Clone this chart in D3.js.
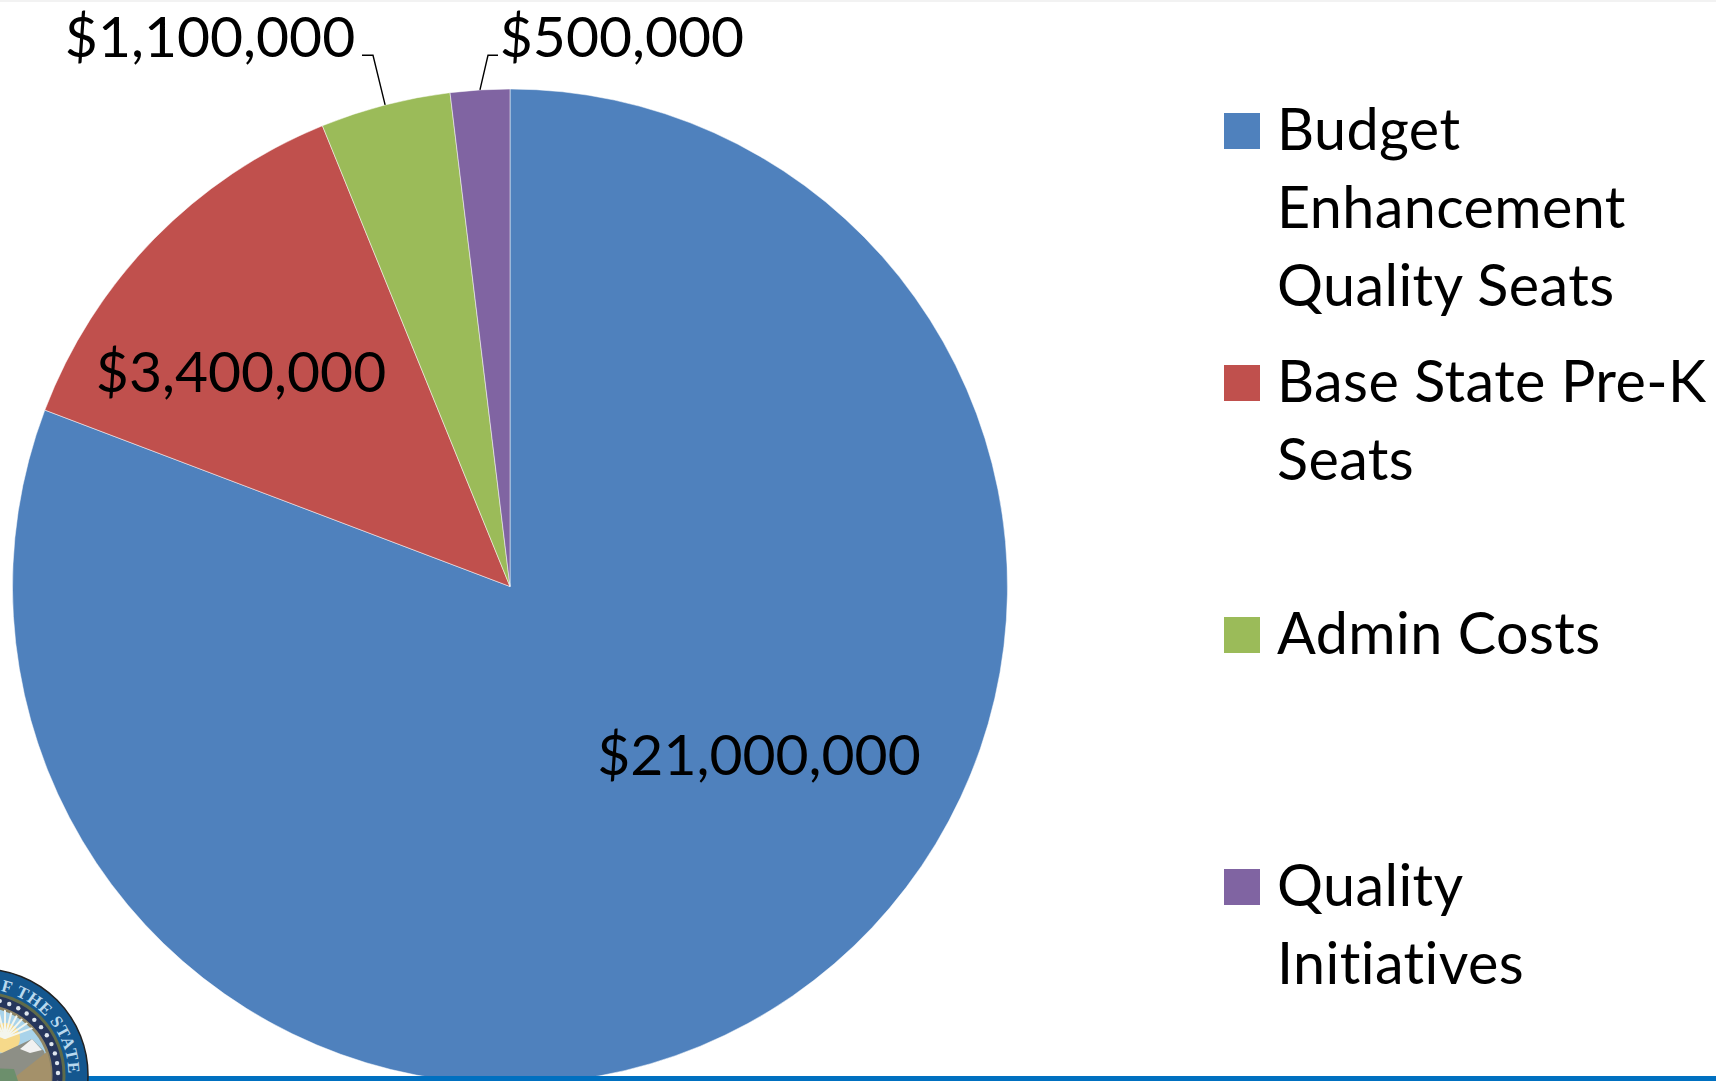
<!DOCTYPE html>
<html>
<head>
<meta charset="utf-8">
<script src="https://cdn.jsdelivr.net/npm/d3@7.9.0/dist/d3.min.js"></script>
<style>
  html, body { margin: 0; padding: 0; background: #fff; }
  svg { display: block; }
  text { font-family: Lato, "Open Sans", sans-serif; fill: #000; font-variant-ligatures: none; }
</style>
</head>
<body>
<svg id="chart" width="1716" height="1081"></svg>
<script>
const categories = ["Budget Enhancement Quality Seats", "Base State Pre-K Seats", "Admin Costs", "Quality Initiatives"];
const values = [21000000, 3400000, 1100000, 500000];
const valueLabels = ["$21,000,000", "$3,400,000", "$1,100,000", "$500,000"];
const legendLines = [["Budget", "Enhancement", "Quality Seats"], ["Base State Pre-K", "Seats"], ["Admin Costs"], ["Quality", "Initiatives"]];
const colors = ["#4f81bd", "#c0504d", "#9bbb59", "#8064a2"];

const svg = d3.select("#chart");
const width = +svg.attr("width");
const height = +svg.attr("height");
const cx = 510, cy = 586.5, radius = 497.5;
const fontSize = 57;
const legendFontSize = 57.5;

svg.append("rect").attr("width", width).attr("height", 2).attr("fill", "#f2f2f2");

const g = svg.append("g").attr("transform", `translate(${cx},${cy})`);

const pie = d3.pie().sort(null).value(d => d);
const arc = d3.arc().innerRadius(0).outerRadius(radius);
const arcs = pie(values);

g.selectAll("path.slice")
  .data(arcs)
  .join("path")
  .attr("class", "slice")
  .attr("d", arc)
  .attr("fill", (d, i) => colors[i])
  .attr("stroke", "#fff")
  .attr("stroke-width", 0.5);

// Data labels, offsets from pie centre
const labelOffsets = [[249, 166], [-269, -217], [-300, -552], [112, -552]];
g.selectAll("text.value")
  .data(arcs)
  .join("text")
  .attr("class", "value")
  .attr("x", (d, i) => labelOffsets[i][0])
  .attr("y", (d, i) => labelOffsets[i][1])
  .attr("text-anchor", "middle")
  .attr("dominant-baseline", "central")
  .attr("font-size", fontSize)
  .text((d, i) => valueLabels[i]);

// Leader lines for the two thin slices
const leaderY = 55.3 - cy;
const leaders = [{ i: 2, elbow: -137, end: -148 }, { i: 3, elbow: -22, end: -12 }];
leaders.forEach(l => {
  const a = (arcs[l.i].startAngle + arcs[l.i].endAngle) / 2;
  const px = Math.sin(a) * radius, py = -Math.cos(a) * radius;
  g.append("path")
    .attr("d", d3.line()([[px, py], [l.elbow, leaderY], [l.end, leaderY]]))
    .attr("fill", "none")
    .attr("stroke", "#000")
    .attr("stroke-width", 1.4);
});

// Legend
const legendTops = [113, 365, 617, 869];
const lineHeight = 78.3;
const legend = svg.append("g");
categories.forEach((c, i) => {
  const row = legend.append("g").attr("transform", `translate(1224,${legendTops[i]})`);
  row.append("rect").attr("width", 36).attr("height", 36).attr("fill", colors[i]);
  legendLines[i].forEach((line, j) => {
    row.append("text")
      .attr("x", 53)
      .attr("y", 36.5 + j * lineHeight)
      .attr("font-size", legendFontSize)
      .attr("letter-spacing", 0.4)
      .text(line);
  });
});

// Footer bar and seal
svg.append("rect").attr("x", 0).attr("y", 1076).attr("width", width).attr("height", 5).attr("fill", "#0070c0");

const sealR = 106;
const seal = svg.append("g").attr("transform", "translate(-18,1075)");
seal.append("circle").attr("r", sealR).attr("fill", "#14578f").attr("stroke", "#222").attr("stroke-width", 1.5);
seal.append("circle").attr("r", 82).attr("fill", "#26365c").attr("stroke", "#5f6b4a").attr("stroke-width", 3);
seal.append("clipPath").attr("id", "sealClip").append("circle").attr("r", 69);
seal.append("circle").attr("r", 69).attr("fill", "#a9d3ea").attr("stroke", "#8f8566").attr("stroke-width", 3);

// stars round the inner ring
d3.range(6, 100, 7.5).forEach(deg => {
  const a = (deg - 90) * Math.PI / 180;
  seal.append("circle")
    .attr("cx", Math.cos(a) * 76).attr("cy", Math.sin(a) * 76)
    .attr("r", 2.2).attr("fill", "#dfe6ee");
});

seal.append("path").attr("id", "sealArc").attr("fill", "none")
  .attr("d", "M 4.5 -86 A 86 86 0 0 1 85 15");
seal.append("text")
  .style("font-family", "'Liberation Serif', serif")
  .style("font-size", "17px")
  .style("font-weight", 700)
  .style("fill", "#b9d9ee")
  .attr("letter-spacing", 0.8)
  .append("textPath").attr("href", "#sealArc").text("OF THE STATE");

const scene = seal.append("g").attr("clip-path", "url(#sealClip)");
scene.append("circle").attr("cx", 23).attr("cy", -37).attr("r", 15).attr("fill", "#f6d98a");
d3.range(-70, 71, 14).forEach(deg => {
  const a = (deg - 90) * Math.PI / 180;
  scene.append("line")
    .attr("x1", 23).attr("y1", -37)
    .attr("x2", 23 + Math.cos(a) * 42).attr("y2", -37 + Math.sin(a) * 42)
    .attr("stroke", "#f4f6ee").attr("stroke-width", 2);
});
scene.append("path").attr("d", "M-20 -12 L20 -22 L50 -36 L62 -24 L72 10 L60 60 L-20 60 Z").attr("fill", "#8d8f86");
scene.append("path").attr("d", "M38 -26 L50 -36 L60 -25 L48 -22 Z").attr("fill", "#f1f1f1");
scene.append("path").attr("d", "M28 6 L66 -24 L72 10 L60 60 L30 60 Z").attr("fill", "#a4916a");
scene.append("path").attr("d", "M-20 -8 L32 -6 L36 6 L22 60 L-20 60 Z").attr("fill", "#6c8f6c");
</script>
</body>
</html>
